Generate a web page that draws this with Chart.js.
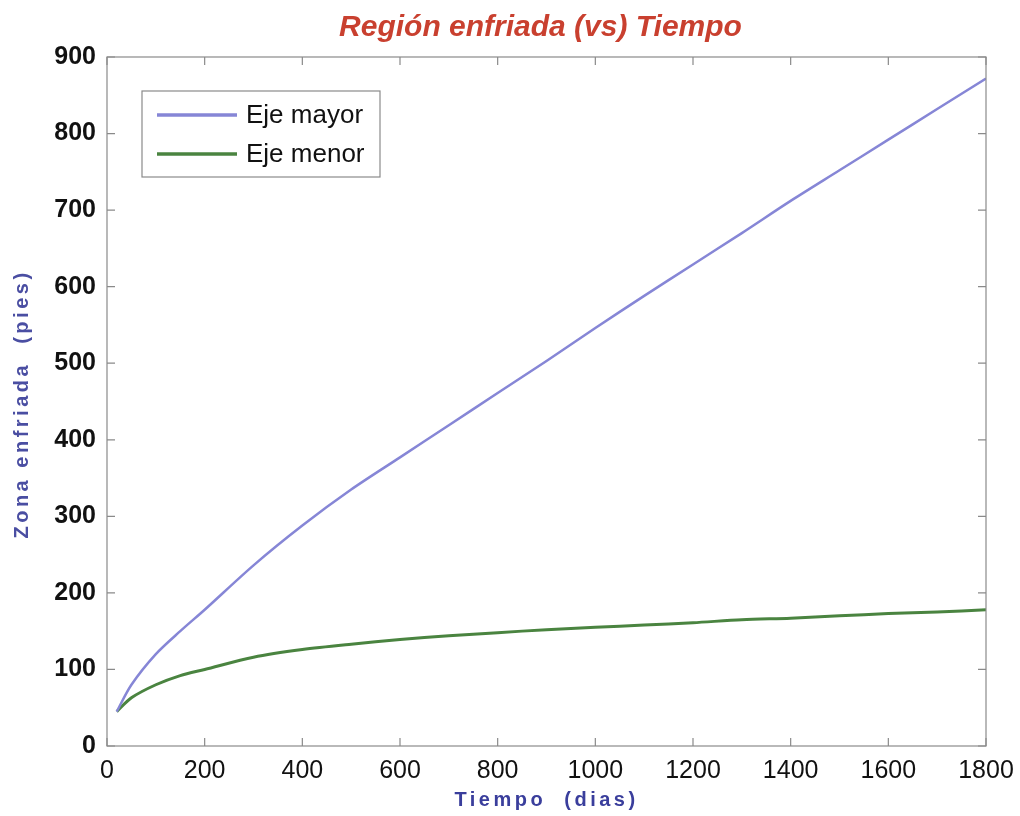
<!DOCTYPE html>
<html>
<head>
<meta charset="utf-8">
<script src="https://cdn.jsdelivr.net/npm/chart.js@4/dist/chart.umd.min.js"></script>
<style>
html,body{margin:0;padding:0;background:#fff;}
canvas{display:block;}
</style>
</head>
<body>
<canvas id="c" width="1020" height="816"></canvas>
<script>
const chartTitle = 'Región enfriada (vs) Tiempo';
const xTitle = 'Tiempo  (dias)';
const yTitle = 'Zona enfriada  (pies)';
const seriesNames = ['Eje mayor', 'Eje menor'];
const tiempo = [20, 50, 100, 150, 200, 300, 400, 500, 600, 700, 800, 900, 1000, 1100, 1200, 1300, 1400, 1500, 1600, 1700, 1800];
const ejeMayor = [45, 80, 120, 150, 178, 236, 288, 335, 377, 419, 461, 503, 546, 588, 629, 670, 712, 752, 792, 832, 872];
const ejeMenor = [45, 63, 80, 92, 100, 116, 126, 133, 139, 144, 148, 152, 155, 158, 161, 165, 167, 170, 173, 175, 178];
const xTicks = [0, 200, 400, 600, 800, 1000, 1200, 1400, 1600, 1800];
const yTicks = [0, 100, 200, 300, 400, 500, 600, 700, 800, 900];

const colors = ['#8686d6', '#4a8440'];
const FONT = '"Liberation Sans", Arial, sans-serif';

const framePlugin = {
  id: 'frame',
  afterDatasetsDraw(chart) {
    const {ctx, chartArea: a, scales: {x, y}} = chart;
    ctx.save();
    ctx.strokeStyle = '#8a8a8a';
    ctx.lineWidth = 1.2;
    ctx.strokeRect(a.left, a.top, a.right - a.left, a.bottom - a.top);
    const tl = 8;
    ctx.beginPath();
    xTicks.forEach(v => {
      const px = x.getPixelForValue(v);
      ctx.moveTo(px, a.bottom); ctx.lineTo(px, a.bottom - tl);
      ctx.moveTo(px, a.top); ctx.lineTo(px, a.top + tl);
    });
    yTicks.forEach(v => {
      const py = y.getPixelForValue(v);
      ctx.moveTo(a.left, py); ctx.lineTo(a.left + tl, py);
      ctx.moveTo(a.right, py); ctx.lineTo(a.right - tl, py);
    });
    ctx.stroke();

    // title
    ctx.fillStyle = '#c9402f';
    ctx.font = 'italic bold 30px ' + FONT;
    ctx.textAlign = 'center';
    ctx.textBaseline = 'middle';
    ctx.fillText(chartTitle, (a.left + a.right) / 2 - 6, 28);

    // legend box
    const lx = 142, ly = 91, lw = 238, lh = 86;
    ctx.fillStyle = '#fff';
    ctx.fillRect(lx, ly, lw, lh);
    ctx.strokeStyle = '#8a8a8a';
    ctx.lineWidth = 1.2;
    ctx.strokeRect(lx, ly, lw, lh);
    chart.data.datasets.forEach((ds, i) => {
      const yy = ly + 24 + i * 39;
      ctx.strokeStyle = ds.borderColor;
      ctx.lineWidth = 3.5;
      ctx.beginPath();
      ctx.moveTo(lx + 15, yy); ctx.lineTo(lx + 95, yy);
      ctx.stroke();
      ctx.fillStyle = '#111';
      ctx.font = '26px ' + FONT;
      ctx.textBaseline = 'middle';
      ctx.textAlign = 'left';
      ctx.fillText(ds.label, lx + 104, yy + 1);
    });

    // axis titles with letter spacing
    ctx.textAlign = 'center';
    ctx.textBaseline = 'middle';
    ctx.font = 'bold 20px ' + FONT;
    ctx.letterSpacing = '3.5px';
    ctx.fillStyle = '#3a3e9c';
    ctx.fillText(xTitle, (a.left + a.right) / 2, 800);
    ctx.save();
    ctx.translate(22, 404);
    ctx.rotate(-Math.PI / 2);
    ctx.fillStyle = '#4a4ea2';
    ctx.letterSpacing = '3.5px';
    ctx.fillText(yTitle, 0, 0);
    ctx.restore();
    ctx.restore();
  }
};

new Chart(document.getElementById('c'), {
  type: 'line',
  data: {
    datasets: [
      {label: seriesNames[0], data: tiempo.map((t, i) => ({x: t, y: ejeMayor[i]})), borderColor: colors[0], borderWidth: 2.5, pointRadius: 0, tension: 0.3, fill: false},
      {label: seriesNames[1], data: tiempo.map((t, i) => ({x: t, y: ejeMenor[i]})), borderColor: colors[1], borderWidth: 3, pointRadius: 0, tension: 0.3, fill: false}
    ]
  },
  options: {
    responsive: false,
    devicePixelRatio: 1,
    animation: false,
    layout: {padding: {left: 0, right: 34, top: 57, bottom: 0}},
    plugins: {
      legend: {display: false},
      tooltip: {enabled: false},
      title: {display: false}
    },
    scales: {
      x: {
        type: 'linear',
        min: 0, max: 1800,
        afterFit: s => { s.height = 70; s.paddingRight = 0; s.paddingLeft = 0; },
        afterBuildTicks: s => { s.ticks = xTicks.map(v => ({value: v})); },
        grid: {display: false, drawTicks: false},
        border: {display: false},
        ticks: {color: '#111', padding: 10, maxRotation: 0, autoSkip: false, callback: v => String(v), font: {family: FONT, size: 25}}
      },
      y: {
        type: 'linear',
        min: 0, max: 900,
        afterFit: s => { s.width = 107; s.paddingTop = 0; s.paddingBottom = 0; },
        afterBuildTicks: s => { s.ticks = yTicks.map(v => ({value: v})); },
        grid: {display: false, drawTicks: false},
        border: {display: false},
        ticks: {color: '#111', padding: 11, autoSkip: false, callback: v => String(v), font: {family: FONT, size: 25, weight: 'bold'}}
      }
    }
  },
  plugins: [framePlugin]
});
</script>
</body>
</html>
